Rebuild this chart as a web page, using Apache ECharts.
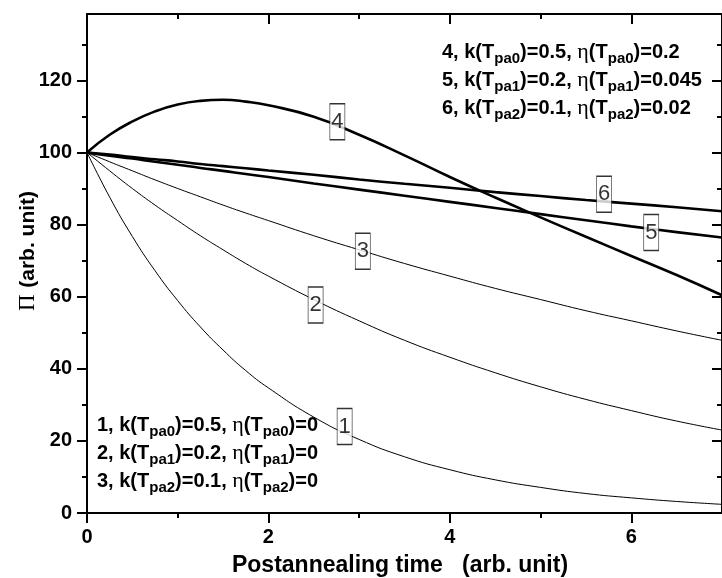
<!DOCTYPE html>
<html><head><meta charset="utf-8">
<script src="https://cdn.jsdelivr.net/npm/echarts@6/dist/echarts.min.js"></script>
<style>html,body{margin:0;padding:0;background:#fff}#c{width:722px;height:578px}</style>
</head><body><div id="c"></div>
<script>
// sample times (arb. unit)
const tGrid  = [0, 0.25, 0.5, 0.75, 1, 1.25, 1.5, 1.75, 2, 2.5, 3, 3.5, 4, 4.5, 5, 5.5, 6, 6.5, 7];
// curves
const curve1 = [100, 87.6, 76.7, 67.2, 58.9, 51.6, 45.2, 39.5, 34.7, 26.6, 20.4, 15.6, 12.0, 9.2, 7.1, 5.4, 4.2, 3.2, 2.4];
const curve2 = [100, 94.9, 90.0, 85.4, 81.1, 76.9, 73.0, 69.2, 65.7, 59.2, 53.3, 47.9, 43.2, 38.9, 35.0, 31.5, 28.4, 25.5, 23.0];
const curve3 = [100, 97.4, 94.9, 92.4, 90.0, 87.7, 85.4, 83.2, 81.1, 76.9, 73.0, 69.2, 65.7, 62.3, 59.2, 56.1, 53.3, 50.5, 47.9];
const curve4 = [100, 104.9, 108.6, 111.4, 113.3, 114.3, 114.6, 114.1, 113.1, 109.9, 104.9, 99.2, 93.2, 87.5, 82.0, 76.6, 71.3, 66.0, 60.4];
const curve5 = [100, 99.1, 98.3, 97.4, 96.6, 95.7, 94.9, 94.0, 93.2, 91.4, 89.7, 88.0, 86.3, 84.6, 82.9, 81.2, 79.5, 77.9, 76.4];
const curve6 = [100, 99.4, 98.7, 98.1, 97.5, 96.8, 96.2, 95.6, 95.0, 93.8, 92.5, 91.3, 90.2, 89.0, 87.9, 86.8, 85.8, 84.8, 83.7];
// boxed curve labels (data coordinates)
const labelT    = [2.84, 2.52, 3.04, 2.76, 6.22, 5.70];
const labelP    = [24.0, 57.7, 72.6, 108.5, 77.8, 88.4];
const labelText = ['1', '2', '3', '4', '5', '6'];
// ticks
const xMajorTicks = [0, 2, 4, 6];
const xMinorTicks = [1, 3, 5];
const yMajorTicks = [0, 20, 40, 60, 80, 100, 120];
const yMinorTicks = [10, 30, 50, 70, 90, 110, 130];
const X_MIN = 0, X_MAX = 7, Y_MIN = 0, Y_MAX = 138.4;

const SANS = '"Liberation Sans", Arial, Helvetica, sans-serif';
const SERIF = '"Liberation Serif", "Times New Roman", serif';

const chart = echarts.init(document.getElementById('c'), null, {renderer: 'canvas'});

function mkX(pos, ticks, len, inside, showLine, showLabel) {
  return {
    type: 'value', position: pos, min: X_MIN, max: X_MAX,
    axisLine: {show: showLine, onZero: false, lineStyle: {color: '#000', width: 2}},
    axisTick: {show: true, inside: inside, length: len, customValues: ticks, lineStyle: {color: '#000', width: 2}},
    axisLabel: showLabel ? {show: true, customValues: ticks, margin: 14, color: '#000', fontFamily: SANS, fontWeight: 'bold', fontSize: 20} : {show: false},
    splitLine: {show: false}
  };
}
function mkY(pos, ticks, len, inside, showLine, showLabel) {
  return {
    type: 'value', position: pos, min: Y_MIN, max: Y_MAX,
    axisLine: {show: showLine, onZero: false, lineStyle: {color: '#000', width: 2}},
    axisTick: {show: true, inside: inside, length: len, customValues: ticks, lineStyle: {color: '#000', width: 2}},
    axisLabel: showLabel ? {show: true, customValues: ticks, margin: 15, color: '#000', fontFamily: SANS, fontWeight: 'bold', fontSize: 20} : {show: false},
    splitLine: {show: false}
  };
}

const curves = [curve1, curve2, curve3, curve4, curve5, curve6];
const widths = [1, 1, 1, 2.6, 2.6, 2.6];
const series = curves.map((c, k) => ({
  type: 'line', name: 'curve' + (k + 1), xAxisIndex: 0, yAxisIndex: 0,
  data: tGrid.map((t, i) => [t, c[i]]),
  smooth: true, showSymbol: false, silent: true,
  lineStyle: {color: '#000', width: widths[k]}, z: 2
}));
series.push({
  type: 'scatter', name: 'labels', xAxisIndex: 0, yAxisIndex: 0, z: 5,
  symbol: 'rect', symbolSize: [15, 36],
  itemStyle: {color: '#fff', borderColor: '#000', borderWidth: 1},
  label: {show: true, position: 'inside', color: '#000', fontFamily: SANS, fontSize: 22,
    formatter: p => p.data[2]},
  data: labelT.map((t, i) => [t, labelP[i], labelText[i]])
});

const rich = {
  n:   {fill: '#000', color: '#000', fontFamily: SANS, fontWeight: 'bold', fontSize: 20, lineHeight: 28},
  sub: {fill: '#000', color: '#000', fontFamily: SANS, fontWeight: 'bold', fontSize: 15, lineHeight: 12, verticalAlign: 'bottom'},
  eta: {fill: '#000', color: '#000', fontFamily: SERIF, fontWeight: 'normal', fontSize: 22, lineHeight: 28}
};
function line(num, k, eta, sub) {
  return '{n|' + num + ', k(T}{sub|' + sub + '}{n|)=' + k + ', }{eta|η}{n|(T}{sub|' + sub + '}{n|)=' + eta + '}';
}
const topText = [line(4, '0.5', '0.2', 'pa0'), line(5, '0.2', '0.045', 'pa1'), line(6, '0.1', '0.02', 'pa2')].join('\n');
const botText = [line(1, '0.5', '0', 'pa0'), line(2, '0.2', '0', 'pa1'), line(3, '0.1', '0', 'pa2')].join('\n');

chart.setOption({
  animation: false,
  backgroundColor: '#fff',
  grid: {left: 87, right: -9, top: 14, bottom: 65, containLabel: false},
  xAxis: [
    mkX('bottom', xMajorTicks, 10, false, true, true),
    mkX('bottom', xMinorTicks, 5, false, false, false),
    mkX('top', xMajorTicks, 10, true, true, false),
    mkX('top', xMinorTicks, 5, true, false, false)
  ],
  yAxis: [
    mkY('left', yMajorTicks, 10, false, true, true),
    mkY('left', yMinorTicks, 5, false, false, false),
    mkY('right', yMajorTicks, 10, true, true, false),
    mkY('right', yMinorTicks, 5, true, false, false)
  ],
  series: series,
  graphic: [
    {type: 'text', left: 442, top: 41, z: 10, style: {text: topText, rich: rich, fill: '#000'}},
    {type: 'text', left: 97, top: 414, z: 10, style: {text: botText, rich: rich, fill: '#000'}},
    {type: 'text', x: 400, y: 566, z: 10, style: {text: 'Postannealing time   (arb. unit)', fill: '#000',
      font: 'bold 23px ' + SANS, textAlign: 'center', textVerticalAlign: 'middle'}},
    {type: 'text', x: 28, y: 251, rotation: Math.PI / 2, z: 10, style: {
      text: '{pi|Π}  {b|(arb. unit)}', textAlign: 'center', textVerticalAlign: 'middle',
      rich: {pi: {fill: '#000', fontFamily: SERIF, fontSize: 23, fontWeight: 'normal'},
             b: {fill: '#000', fontFamily: SANS, fontSize: 21, fontWeight: 'bold'}}}}
  ]
});
</script></body></html>
